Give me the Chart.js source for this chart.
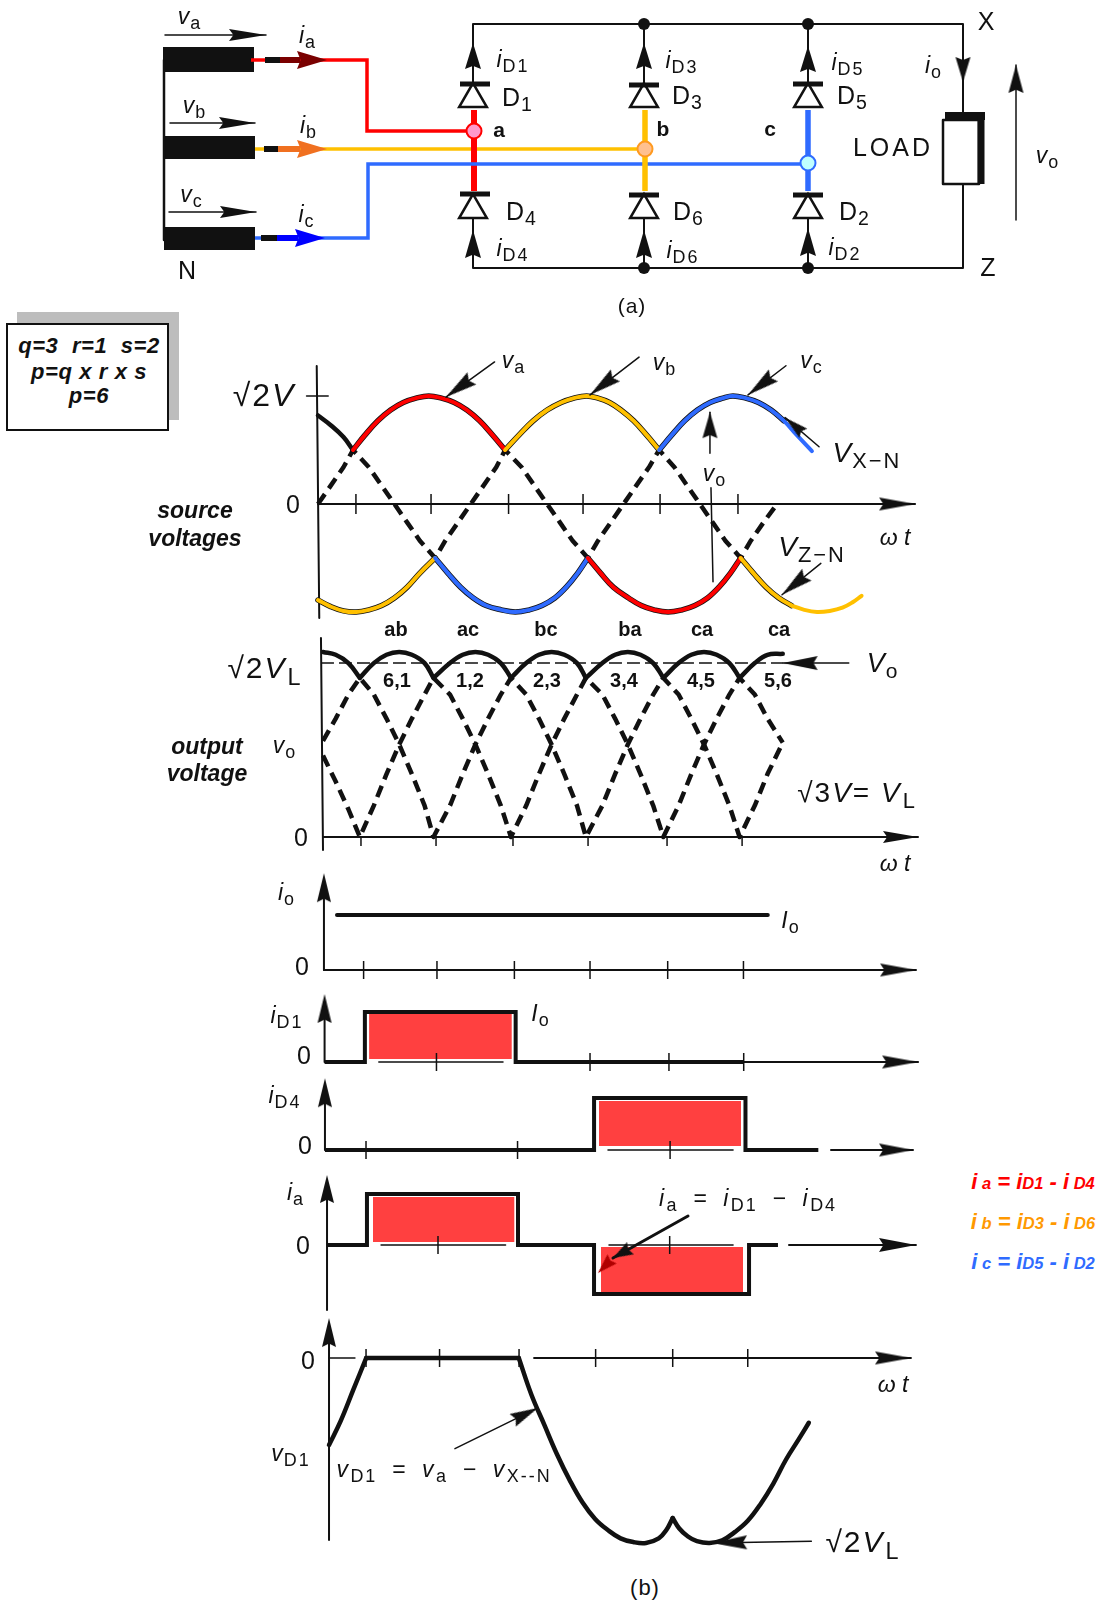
<!DOCTYPE html>
<html>
<head>
<meta charset="utf-8">
<title>Three phase bridge rectifier</title>
<script src="https://cdn.jsdelivr.net/npm/chart.js@4"></script>
<style>
  html, body { margin: 0; padding: 0; background: #fff; }
  #page { position: relative; width: 1100px; height: 1600px; overflow: hidden; font-family: "Liberation Sans", Arial, sans-serif; color: #111; }
  #page canvas { position: absolute; }
  .t { position: absolute; transform: translate(-50%, -50%); white-space: nowrap; line-height: 1; }
  .t i { font-style: italic; }
  .t span.s { font-size: 0.78em; position: relative; top: 0.28em; letter-spacing: 2px; font-style: normal; margin-left: 1px; }
  #shadow { position: absolute; left: 17px; top: 312px; width: 162px; height: 108px; background: #bdbdbd; }
  #box { position: absolute; left: 6px; top: 323px; width: 163px; height: 108px; background: #fff; border: 2px solid #111; box-sizing: border-box; }
</style>
</head>
<body>
<div id="page"><div id="shadow"></div><div id="box"></div></div>
<script>
// ---------- colours ----------
const RED = "#ff0000", YELLOW = "#ffc000", BLUE = "#2f6bff", BLACK = "#111111", PULSE = "#ff4040";

// ---------- circuit (a), in schematic units ----------
const wireRedX = [251, 367, 367, 474],      wireRedY = [60, 60, 131, 131];
const wireYellowX = [255, 645],             wireYellowY = [149, 149];
const wireBlueX = [255, 368, 368, 808],     wireBlueY = [238, 238, 164, 164];
const topRailX = [473, 473, 963, 963],      topRailY = [84, 24, 24, 112];
const bottomRailX = [473, 473, 963, 963],   bottomRailY = [218, 268, 268, 185];
const legX = [644, 808];
const phaseLegX = [474, 645, 808];
const diodeX = [473, 644, 808, 473, 644, 808];
const diodeY = [99, 99, 99, 210, 210, 210];
const barX = [475, 644, 808, 475, 644, 808];
const barY = [84, 85, 84, 194, 195, 195];
const dotX = [644, 808, 644, 808];
const dotY = [24, 24, 268, 268];
const upperTipY = [43, 43, 46];
const lowerTipY = [230, 230, 228];
const loadX = [943, 979, 979, 943, 943],    loadY = [120, 120, 184, 184, 120];

// ---------- source voltages ----------
const srcTicks = [29.8, 88.8, 149.7, 208.2, 268.7, 329.9];
const vxStartDeg = [0, 10, 20, 27.5];
const vxStart = [0.82, 0.73, 0.62, 0.5];
const vxRedDeg = [27.5, 37, 47, 57, 67, 77, 87, 97, 107, 117, 127, 137, 147];
const vxRed = [0.5, 0.64, 0.77, 0.87, 0.94, 0.98, 1, 0.98, 0.94, 0.87, 0.77, 0.64, 0.5];
const vxYellowDeg = [147, 158, 169, 180, 191, 201, 211, 220, 229, 238, 248, 258, 268];
const vxYellow = [0.5, 0.64, 0.77, 0.87, 0.94, 0.98, 1, 0.98, 0.94, 0.87, 0.77, 0.64, 0.5];
const vxBlueDeg = [268, 278, 288, 298, 308, 318, 326, 336, 346, 356, 366, 376, 388];
const vxBlue = [0.5, 0.64, 0.77, 0.87, 0.94, 0.98, 1, 0.98, 0.94, 0.87, 0.77, 0.64, 0.49];
const vzYellowADeg = [0, 10, 20, 30, 40, 50, 60, 70, 80, 92];
const vzYellowA = [-0.89, -0.95, -0.99, -1, -0.98, -0.94, -0.87, -0.77, -0.64, -0.5];
const vzBlueDeg = [92, 102, 112, 122, 132, 144, 155, 166, 176, 186, 195, 204, 212];
const vzBlue = [-0.5, -0.64, -0.77, -0.87, -0.94, -0.98, -1, -0.98, -0.94, -0.87, -0.77, -0.64, -0.5];
const vzRedDeg = [212, 222, 232, 244, 254, 264, 275, 286, 296, 306, 315, 324, 332];
const vzRed = [-0.5, -0.64, -0.77, -0.87, -0.94, -0.98, -1, -0.98, -0.94, -0.87, -0.77, -0.64, -0.5];
const vzYellowBDeg = [332, 342, 352, 362, 372];
const vzYellowB = [-0.5, -0.64, -0.77, -0.87, -0.94];
const vzTailDeg = [372, 382, 392, 402, 412, 420, 427];
const vzTail = [-0.94, -0.98, -1, -0.99, -0.96, -0.91, -0.85];
const srcDashDeg = [0, 10, 20, 27.5, 40, 50, 60, 70, 80, 92, 100, 110, 120, 130, 140, 147, 160, 170, 180, 190, 200, 212, 220, 230, 240, 250, 260, 268, 280, 290, 300, 310, 320, 332, 340, 350, 360];
const srcDash = [0, 0.17, 0.34, 0.5, 0.34, 0.17, 0, -0.17, -0.34, -0.5, -0.34, -0.17, 0, 0.17, 0.34, 0.5, 0.34, 0.17, 0, -0.17, -0.34, -0.5, -0.34, -0.17, 0, 0.17, 0.34, 0.5, 0.34, 0.17, 0, -0.17, -0.34, -0.5, -0.34, -0.17, -0.01];

// ---------- output voltage ----------
const outTicks = [29.9, 89, 149.6, 208.7, 270.9, 330];
const outDeg = [0, 10, 20, 29, 40, 50, 60, 70, 80, 87, 100, 110, 120, 130, 140, 148, 160, 170, 180, 190, 200, 207, 220, 230, 240, 250, 260, 268, 280, 290, 300, 310, 320, 328, 340, 350, 362];
const outEnvelope = [1, 0.985, 0.94, 0.86, 0.94, 0.985, 1, 0.985, 0.94, 0.86, 0.94, 0.985, 1, 0.985, 0.94, 0.86, 0.94, 0.985, 1, 0.985, 0.94, 0.86, 0.94, 0.985, 1, 0.985, 0.94, 0.86, 0.94, 0.985, 1, 0.985, 0.94, 0.86, 0.94, 0.985, 0.99];
const outDashA = [0.52, 0.64, 0.77, 0.86, 0.77, 0.64, 0.5, 0.34, 0.17, 0, 0.17, 0.34, 0.5, 0.64, 0.77, 0.86, 0.77, 0.64, 0.5, 0.34, 0.17, 0, 0.17, 0.34, 0.5, 0.64, 0.77, 0.86, 0.77, 0.64, 0.5, 0.34, 0.17, 0, 0.17, 0.34, 0.51];
const outDashB = [0.44, 0.3, 0.15, 0, 0.17, 0.34, 0.5, 0.64, 0.77, 0.86, 0.77, 0.64, 0.5, 0.34, 0.17, 0, 0.17, 0.34, 0.5, 0.64, 0.77, 0.86, 0.77, 0.64, 0.5, 0.34, 0.17, 0, 0.17, 0.34, 0.5, 0.64, 0.77, 0.86, 0.77, 0.64, 0.51];
const outDips = [0, 3, 9, 15, 21, 27, 33, 36];
const outAverageDeg = [-1.6, 362];
const outAverage = [0.94, 0.94];

// ---------- currents ----------
const ioTicks = [30, 87.9, 149, 208.7, 270, 329.8];
const ioLevelDeg = [9, 349];
const ioLevel = [1, 1];

const id1Ticks = [87.5, 208.7, 271, 330];
const id1Deg = [-0.8, 31, 31, 150, 150, 330];
const id1Val = [0, 0, 1, 1, 0, 0];
const id4Ticks = [30, 149.6, 270];
const id4Deg = [-2.4, 210, 210, 329.5, 329.5, 387];
const id4Val = [0, 0, 1, 1, 0, 0];
const iaTicks = [90, 271];
const iaDeg = [3.3, 34.5, 34.5, 152.5, 152.5, 211.9, 211.9, 333, 333, 355.6];
const iaVal = [0, 0, 1.02, 1.02, 0, 0, -0.98, -0.98, 0, 0];

// ---------- diode voltage ----------
const vd1Ticks = [29.9, 87.7, 150.2, 210.4, 271, 330];
const vd1OffDeg = [0.8, 10, 20, 30];
const vd1Off = [-0.47, -0.34, -0.17, 0];
const vd1ZeroDeg = [30, 150];
const vd1Zero = [0, 0];
const vd1FallDeg = [150, 160, 170, 180, 190, 200, 210, 220, 230, 240, 250, 260, 266, 271];
const vd1Fall = [0, -0.2, -0.36, -0.52, -0.66, -0.78, -0.87, -0.93, -0.975, -0.995, -1, -0.975, -0.93, -0.865];
const vd1RiseDeg = [271, 276, 283, 290, 300, 310, 320, 330, 340, 350, 360, 370, 378];
const vd1Rise = [-0.865, -0.92, -0.965, -0.99, -1, -0.985, -0.94, -0.88, -0.79, -0.68, -0.55, -0.44, -0.35];

// ---------- helpers ----------
const page = document.getElementById("page");
const heads = {};

function arrowImage(len, wid, color) {
  const key = len + "/" + wid + "/" + color;
  if (heads[key]) return heads[key];
  const c = document.createElement("canvas");
  c.width = len * 2 + 2;
  c.height = wid + 2;
  const g = c.getContext("2d");
  const mx = c.width / 2, my = c.height / 2;
  g.fillStyle = color;
  g.beginPath();
  g.moveTo(mx, my);
  g.lineTo(mx - len, my - wid / 2);
  g.lineTo(mx - len * 0.88, my);
  g.lineTo(mx - len, my + wid / 2);
  g.closePath();
  g.fill();
  heads[key] = c;
  return c;
}

function pts(xs, ys) {
  return xs.map((x, i) => ({ x: x, y: ys[i] }));
}

function line(xs, ys, color, width, dash) {
  return {
    data: pts(xs, ys), showLine: true, pointRadius: 0, borderColor: color, borderWidth: width,
    borderDash: dash || [], borderCapStyle: dash ? "butt" : "round", borderJoinStyle: "round", tension: 0, clip: false
  };
}

function butt(xs, ys, color, width) {
  const d = line(xs, ys, color, width);
  d.borderCapStyle = "butt";
  d.borderJoinStyle = "miter";
  return d;
}

// same line but smoothed, for the sine arcs
function curve(xs, ys, color, width) {
  const d = line(xs, ys, color, width);
  d.tension = 0.4;
  return d;
}

function marks(xs, ys, style, radius, border, fill, stroke, rotation) {
  return {
    data: pts(xs, ys), showLine: false, pointStyle: style, pointRadius: radius, pointBorderWidth: border,
    pointBackgroundColor: fill, pointBorderColor: stroke, pointRotation: rotation || 0, clip: false
  };
}

function ticks(xs, radius, y) {
  return marks(xs, xs.map(() => y || 0), "line", radius, 1.5, BLACK, BLACK, 90);
}

function rect(x1, x2, top, bottom) {
  return {
    data: pts([x1, x2], [top, top]), showLine: true, pointRadius: 0, borderWidth: 0,
    backgroundColor: PULSE, fill: { value: bottom }, clip: false
  };
}

function head(s, fx, fy, tx, ty, len, wid, color) {
  const rot = Math.atan2(-(ty - fy) * s.ky, (tx - fx) * s.kx) * 180 / Math.PI;
  return {
    data: [{ x: tx, y: ty }], showLine: false, pointStyle: arrowImage(len, wid, color || BLACK),
    pointRadius: 1, pointRotation: rot, clip: false
  };
}

function arrow(s, fx, fy, tx, ty, len, wid, lw, color) {
  return [line([fx, tx], [fy, ty], color || BLACK, lw || 1.5), head(s, fx, fy, tx, ty, len, wid, color)];
}

function panel(s, sets) {
  const c = document.createElement("canvas");
  c.width = s.w; c.height = s.h;
  c.style.left = s.left + "px"; c.style.top = s.top + "px";
  page.appendChild(c);
  const a = (s.y0 - s.top) / s.ky, b = (s.y0 - s.top - s.h) / s.ky;
  const all = sets.flat();
  all.forEach((d, i) => { d.order = all.length - i; });
  return new Chart(c, {
    type: "scatter",
    data: { datasets: all },
    options: {
      responsive: false, animation: false, devicePixelRatio: 1, events: [],
      layout: { padding: 0, autoPadding: false },
      plugins: { legend: { display: false }, tooltip: { enabled: false } },
      scales: {
        x: { type: "linear", display: false, min: (s.left - s.x0) / s.kx, max: (s.left + s.w - s.x0) / s.kx },
        y: { type: "linear", display: false, min: Math.min(a, b), max: Math.max(a, b), reverse: s.ky < 0 }
      }
    }
  });
}

function text(x, y, html, size, extra) {
  const d = document.createElement("div");
  d.className = "t";
  d.style.left = x + "px"; d.style.top = y + "px";
  d.style.fontSize = size + "px";
  if (extra) d.style.cssText += extra;
  d.innerHTML = html;
  page.appendChild(d);
}

function sym(a, b) {
  return "<i>" + a + "</i><span class='s'>" + b + "</span>";
}

// ---------- circuit ----------
const sC = { left: 0, top: 0, w: 1100, h: 320, x0: 0, kx: 1, y0: 0, ky: -1 };
const legs = [];
legX.forEach(x => {
  legs.push(line([x, x], [24, 84], BLACK, 2));
  legs.push(line([x, x], [268, 218], BLACK, 2));
});
phaseLegX.forEach((x, i) => {
  legs.push(head(sC, diodeX[i], 75, diodeX[i], upperTipY[i], 26, 16));
  legs.push(head(sC, diodeX[i], 270, diodeX[i], lowerTipY[i], 28, 16));
});
panel(sC, [
  butt([163, 254], [59.5, 59.5], BLACK, 25),
  butt([165, 255], [147.5, 147.5], BLACK, 23),
  butt([164, 255], [238.5, 238.5], BLACK, 23),
  line([164, 164], [60, 240], BLACK, 2.5),
  line(topRailX, topRailY, BLACK, 2),
  line(bottomRailX, bottomRailY, BLACK, 2),
  legs,
  arrow(sC, 165, 35, 266, 35, 37, 12),
  arrow(sC, 170, 123, 255, 123, 36, 12),
  arrow(sC, 169, 212, 256, 212, 36, 12),
  butt(wireRedX, wireRedY, RED, 3.5),
  butt(wireYellowX, wireYellowY, YELLOW, 3.5),
  butt([474, 474], [110, 191], RED, 6),
  butt(wireBlueX, wireBlueY, BLUE, 3.5),
  butt([645, 645], [110, 191], YELLOW, 5.5),
  butt([808, 808], [110, 191], BLUE, 5.5),
  butt([265, 280], [60, 60], BLACK, 6),
  butt([280, 300], [60, 60], "#7a0000", 6),
  head(sC, 297, 60, 327, 60, 30, 18, "#7a0000"),
  butt([264, 278], [149, 149], BLACK, 6),
  butt([278, 300], [149, 149], "#f07020", 6),
  head(sC, 297, 149, 327, 149, 30, 18, "#f07020"),
  butt([261, 277], [238, 238], BLACK, 6),
  butt([277, 298], [238, 238], "#0000ff", 6),
  head(sC, 295, 238, 325, 238, 30, 18, "#0000ff"),
  marks(diodeX, diodeY, "triangle", 16, 2.5, "#ffffff", BLACK),
  marks(barX, barY, "line", 15, 5, BLACK, BLACK),
  marks(dotX, dotY, "circle", 6, 0, BLACK, BLACK),
  marks([474], [131], "circle", 7.5, 2, "#ff99cc", RED),
  marks([645], [149], "circle", 7.5, 2, "#ffc090", "#ff9a20"),
  marks([808], [163], "circle", 7.5, 2, "#c0ffff", BLUE),
  head(sC, 963, 50, 963, 82, 25, 15),
  line(loadX, loadY, BLACK, 2.5),
  butt([945, 985], [116, 116], BLACK, 8),
  butt([981, 981], [116, 184], BLACK, 7),
  arrow(sC, 1016, 220, 1016, 65, 28, 15, 1.5)
]);

// ---------- source voltages ----------
const sS = { left: 250, top: 340, w: 700, h: 290, x0: 318, kx: 1.273, y0: 504, ky: 108 };
panel(sS, [
  line([-1, 1], [1.278, -1.056], BLACK, 2),
  line([-9, 8], [1, 1], BLACK, 1.5),
  line([0, 469], [0, 0], BLACK, 2),
  head(sS, 430, 0, 469, 0, 36, 13),
  ticks(srcTicks, 10),
  line(srcDashDeg, srcDash, BLACK, 4.5, [12, 7]),
  curve(vxStartDeg, vxStart, BLACK, 4.5),
  curve(vxRedDeg, vxRed, BLACK, 5.5),
  curve(vxYellowDeg, vxYellow, BLACK, 5.5),
  curve(vxBlueDeg.slice(0, 11), vxBlue.slice(0, 11), BLACK, 5.5),
  curve(vzYellowADeg, vzYellowA, BLACK, 5.5),
  curve(vzBlueDeg, vzBlue, BLACK, 5.5),
  curve(vzRedDeg, vzRed, BLACK, 5.5),
  curve(vzYellowBDeg, vzYellowB, BLACK, 5.5),
  curve(vxRedDeg, vxRed, RED, 4),
  curve(vxYellowDeg, vxYellow, YELLOW, 4),
  curve(vxBlueDeg, vxBlue, BLUE, 4),
  curve(vzYellowADeg, vzYellowA, YELLOW, 4),
  curve(vzBlueDeg, vzBlue, BLUE, 4),
  curve(vzRedDeg, vzRed, RED, 4),
  curve(vzYellowBDeg, vzYellowB, YELLOW, 4),
  curve(vzTailDeg, vzTail, YELLOW, 4),
  arrow(sS, 138.7, 1.315, 100.5, 0.99, 32, 15),
  arrow(sS, 252.2, 1.36, 213.7, 1.01, 32, 15),
  arrow(sS, 367.6, 1.28, 337.8, 1.01, 32, 15),
  arrow(sS, 393.6, 0.53, 366.9, 0.8, 24, 12),
  arrow(sS, 307.9, 0.47, 307.9, 0.85, 26, 15),
  line([308.7, 310.3], [0.15, -0.72], BLACK, 1.5),
  arrow(sS, 395, -0.55, 364.5, -0.84, 32, 15)
]);

// ---------- output voltage ----------
const sO = { left: 250, top: 630, w: 700, h: 235, x0: 323, kx: 1.27, y0: 837, ky: 185 };
const envelopeArcs = outDips.slice(1).map((end, i) =>
  curve(outDeg.slice(outDips[i], end + 1), outEnvelope.slice(outDips[i], end + 1), BLACK, 4.5));
panel(sO, [
  line([-1.6, 0], [1.076, -0.07], BLACK, 2),
  line([0, 468.5], [0, 0], BLACK, 2),
  head(sO, 430, 0, 468.5, 0, 35, 12),
  ticks(outTicks, 5, -0.022),
  line(outDeg, outDashA, BLACK, 4.5, [12, 7]),
  line(outDeg, outDashB, BLACK, 4.5, [12, 7]),
  line(outAverageDeg, outAverage, BLACK, 1.5, [13, 5]),
  envelopeArcs,
  arrow(sO, 414, 0.94, 362, 0.94, 35, 14)
]);

// ---------- io ----------
const sI = { left: 300, top: 865, w: 650, h: 120, x0: 325.6, kx: 1.267, y0: 970, ky: 55 };
panel(sI, [
  line([-1.3, -1.3], [0, 1.6], BLACK, 2),
  head(sI, -1.3, 1.2, -1.3, 1.76, 29, 14),
  line([-1.3, 466], [0, 0], BLACK, 2),
  head(sI, 430, 0, 466, 0, 36, 13),
  ticks(ioTicks, 9),
  line(ioLevelDeg, ioLevel, BLACK, 4)
]);

// ---------- iD1 ----------
const sD1 = { left: 300, top: 985, w: 650, h: 90, x0: 325.6, kx: 1.267, y0: 1062, ky: 50 };
panel(sD1, [
  rect(34.3, 147, 0.96, 0.06),
  line([-0.8, -0.8], [0, 1.2], BLACK, 2),
  head(sD1, -0.8, 1, -0.8, 1.36, 29, 14),
  line([42, 140], [0, 0], BLACK, 1.5),
  line([330, 467.6], [0, 0], BLACK, 2),
  head(sD1, 430, 0, 467.6, 0, 36, 13),
  ticks(id1Ticks, 9),
  butt(id1Deg, id1Val, BLACK, 4)
]);

// ---------- iD4 ----------
const sD4 = { left: 300, top: 1070, w: 650, h: 95, x0: 328, kx: 1.267, y0: 1150, ky: 52 };
panel(sD4, [
  rect(213.9, 326, 0.94, 0.077),
  line([-2.4, -2.4], [0, 1.2], BLACK, 2),
  head(sD4, -2.4, 1, -2.4, 1.38, 29, 14),
  line([221, 319.7], [0, 0], BLACK, 1.5),
  line([397, 461.7], [0, 0], BLACK, 2),
  head(sD4, 430, 0, 461.7, 0, 34, 13),
  ticks(id4Ticks, 9),
  butt(id4Deg, id4Val, BLACK, 4)
]);

// ---------- ia ----------
const sA = { left: 300, top: 1165, w: 650, h: 155, x0: 322.8, kx: 1.28, y0: 1245, ky: 50 };
panel(sA, [
  line([3.3, 3.3], [-1.3, 1.2], BLACK, 2),
  head(sA, 3.3, 1, 3.3, 1.4, 28, 14),
  line([45.5, 142.8], [0, 0], BLACK, 1.5),
  line([223.6, 320.5], [0, 0], BLACK, 1.5),
  line([364.2, 463.4], [0, 0], BLACK, 2),
  head(sA, 430, 0, 463.4, 0, 37, 14),
  rect(39.2, 149.8, 0.96, 0.06),
  rect(217.3, 328.3, -0.04, -0.94),
  ticks(iaTicks, 9),
  butt(iaDeg, iaVal, BLACK, 4),
  line([285.3, 226.7], [0.58, -0.26], BLACK, 3),
  head(sA, 285.3, 0.58, 226.7, -0.26, 20, 14),
  head(sA, 226.7, -0.26, 215, -0.56, 20, 13, "#b00000")
]);

// ---------- vD1 ----------
const sV = { left: 300, top: 1310, w: 650, h: 250, x0: 328, kx: 1.272, y0: 1358, ky: 185 };
panel(sV, [
  line([0.8, 0.8], [0.18, -0.984], BLACK, 2),
  head(sV, 0.8, 0.1, 0.8, 0.216, 29, 14),
  line([0.8, 21.2], [0, 0], BLACK, 1.5),
  line([162, 458.3], [0, 0], BLACK, 2),
  head(sV, 430, 0, 458.3, 0, 36, 13),
  ticks(vd1Ticks, 9),
  curve(vd1OffDeg, vd1Off, BLACK, 4.5),
  line(vd1ZeroDeg, vd1Zero, BLACK, 4.5),
  curve(vd1FallDeg, vd1Fall, BLACK, 4.5),
  curve(vd1RiseDeg, vd1Rise, BLACK, 4.5),
  arrow(sV, 99.8, -0.49, 165, -0.27, 28, 14),
  arrow(sV, 380, -0.99, 302, -1, 35, 14)
]);

// ---------- text ----------
const L = 25, S = 23, WIDE = "letter-spacing:2px;", EQ = "letter-spacing:1.5px;word-spacing:7px;";
[
  [190, 16, sym("v", "a"), S], [308, 35, sym("i", "a"), S],
  [195, 105, sym("v", "b"), S], [309, 125, sym("i", "b"), S],
  [192, 194, sym("v", "c"), S], [307, 214, sym("i", "c"), S],
  [187, 270, "N", L],
  [513, 59, sym("i", "D1"), S], [518, 97, "D<span class='s'>1</span>", L],
  [522, 211, "D<span class='s'>4</span>", L], [513, 248, sym("i", "D4"), S],
  [682, 60, sym("i", "D3"), S], [688, 95, "D<span class='s'>3</span>", L],
  [689, 211, "D<span class='s'>6</span>", L], [683, 250, sym("i", "D6"), S],
  [848, 62, sym("i", "D5"), S], [853, 95, "D<span class='s'>5</span>", L],
  [855, 211, "D<span class='s'>2</span>", L], [845, 247, sym("i", "D2"), S],
  [934, 65, sym("i", "o"), S], [986, 21, "X", L], [988, 267, "Z", L],
  [893, 147, "LOAD", L, "letter-spacing:3px;"], [1048, 155, sym("v", "o"), S],
  [632, 305, "(a)", 21, "letter-spacing:1px;"],
  [264, 395, "√2<i>V</i>", 32, WIDE], [293, 504, "0", L], [514, 360, sym("v", "a"), S],
  [665, 362, sym("v", "b"), S], [812, 360, sym("v", "c"), S],
  [867, 453, sym("V", "X−N"), 28], [715, 473, sym("v", "o"), S],
  [812, 547, sym("V", "Z−N"), 28], [895, 537, "<i>ω t</i>", 23],
  [265, 668, "√2<i>V</i><span class='s'>L</span>", 30, WIDE], [285, 745, sym("v", "o"), S],
  [883, 663, sym("V", "o"), 27], [857, 793, "√3<i>V</i>= <i>V</i><span class='s'>L</span>", 28, WIDE],
  [301, 837, "0", L], [895, 863, "<i>ω t</i>", 23],
  [287, 892, sym("i", "o"), S], [302, 966, "0", L], [791, 920, sym("I", "o"), S],
  [287, 1015, sym("i", "D1"), S], [304, 1055, "0", L], [541, 1013, sym("I", "o"), S],
  [285, 1095, sym("i", "D4"), S], [305, 1145, "0", L],
  [296, 1192, sym("i", "a"), S], [303, 1245, "0", L],
  [748, 1198, sym("i", "a") + " = " + sym("i", "D1") + " − " + sym("i", "D4"), S, EQ],
  [308, 1360, "0", L], [893, 1384, "<i>ω t</i>", 23], [291, 1453, sym("v", "D1"), S],
  [444, 1469, sym("v", "D1") + " = " + sym("v", "a") + " − " + sym("v", "X--N"), S, EQ],
  [863, 1542, "√2<i>V</i><span class='s'>L</span>", 30, WIDE], [645, 1588, "(b)", 22, "letter-spacing:1px;"]
].forEach(a => text(a[0], a[1], a[2], a[3], a[4]));

// bold labels of the conducting pairs and the notes
const BOLD = "font-weight:bold;";
[[499, 129, "a"], [663, 128, "b"], [770, 128, "c"]].forEach(a => text(a[0], a[1], a[2], 21, BOLD));
[[396, 629, "ab"], [468, 629, "ac"], [546, 629, "bc"], [630, 629, "ba"], [702, 629, "ca"], [779, 629, "ca"],
 [397, 680, "6,1"], [470, 680, "1,2"], [547, 680, "2,3"], [624, 680, "3,4"], [701, 680, "4,5"], [778, 680, "5,6"]
].forEach(a => text(a[0], a[1], a[2], 20, BOLD));
const NOTE = "font-weight:bold;font-style:italic;";
[[89, 346, "q=3&nbsp; r=1&nbsp; s=2"], [89, 372, "p=q x r x s"], [89, 396, "p=6"]].forEach(a => text(a[0], a[1], a[2], 22, NOTE + "letter-spacing:0.6px;"));
[[195, 510, "source"], [195, 538, "voltages"], [207, 746, "output"], [207, 773, "voltage"]].forEach(a => text(a[0], a[1], a[2], 23, NOTE));
[[1033, 1182, RED, "i", "a", "D1", "D4"], [1033, 1222, "#ff9900", "i", "b", "D3", "D6"], [1033, 1262, BLUE, "i", "c", "D5", "D2"]].forEach(a => {
  text(a[0], a[1], a[3] + "<span style='font-size:.75em'> " + a[4] + "</span> = i<span style='font-size:.75em'>" + a[5] + "</span> - i<span style='font-size:.75em'> " + a[6] + "</span>", 22, NOTE + "color:" + a[2] + ";");
});
</script>
</body>
</html>
